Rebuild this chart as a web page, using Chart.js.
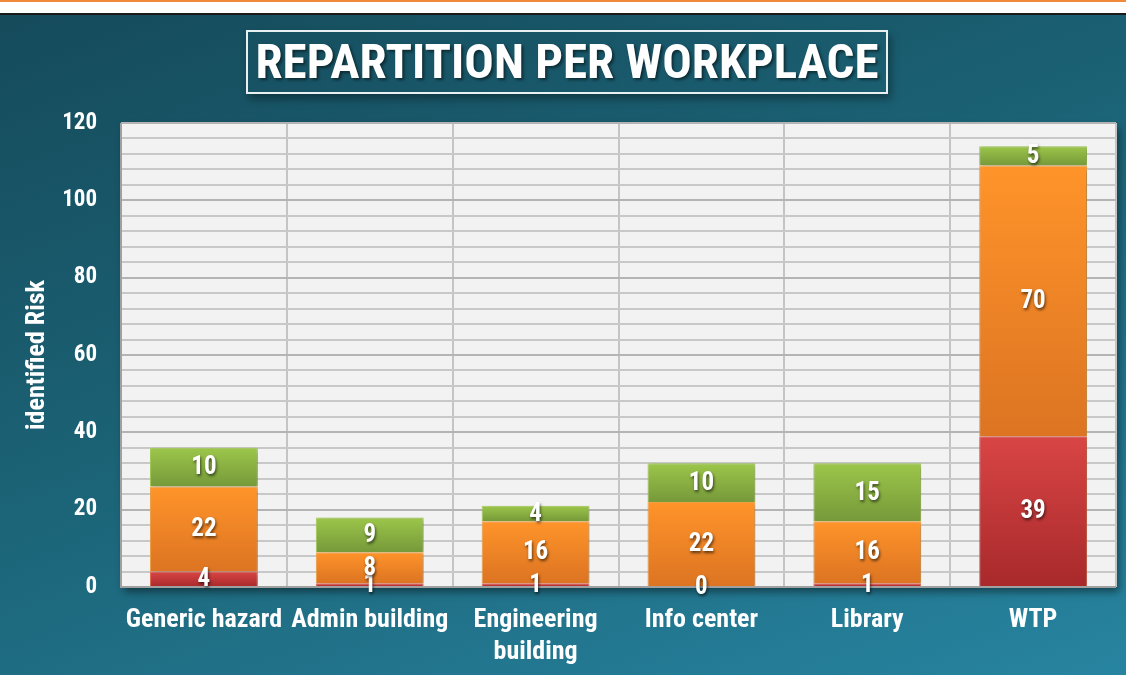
<!DOCTYPE html>
<html>
<head>
<meta charset="utf-8">
<script src="https://cdn.jsdelivr.net/npm/chart.js@4.4.1/dist/chart.umd.min.js"></script>
<style>
  html, body { margin: 0; padding: 0; }
  body {
    width: 1126px; height: 675px; overflow: hidden; position: relative;
    background: linear-gradient(160deg, #154a5a 0%, #1b6275 45%, #2784a0 100%);
    font-family: "Roboto Condensed", Roboto, sans-serif;
  }
  #topbar {
    position: absolute; left: 0; top: 0; width: 1126px; height: 15px;
    background: #fff; border-top: 2px solid #f08a3a; border-bottom: 2px solid #1a1a1a;
    box-sizing: border-box;
  }
  #title {
    position: absolute; left: 246px; top: 30px; width: 642px; height: 64px;
    box-sizing: border-box; border: 2px solid #e8f0f2;
    box-shadow: 3px 5px 8px rgba(0,0,0,0.35);
    color: #fff; font-weight: bold; font-size: 49px; line-height: 60px;
    text-align: center; white-space: nowrap; text-shadow: 2px 2px 3px rgba(0,0,0,0.5);
  }
  #chart { position: absolute; left: 0; top: 0; }
</style>
</head>
<body>
<div id="topbar"></div>
<canvas id="chart" width="1126" height="675"></canvas>
<div id="title">REPARTITION PER WORKPLACE</div>
<script>
const categories = ['Generic hazard', 'Admin building', ['Engineering', 'building'], 'Info center', 'Library', 'WTP'];
const redValues = [4, 1, 1, 0, 1, 39];
const orangeValues = [22, 8, 16, 22, 16, 70];
const greenValues = [10, 9, 4, 10, 15, 5];
const yTicks = [0, 20, 40, 60, 80, 100, 120];

const FONT = '"Roboto Condensed", Roboto, sans-serif';
const seriesList = [redValues, orangeValues, greenValues];

// vertical gradient for one stacked segment
function segGradient(top, bottom) {
  return function (c) {
    const chart = c.chart;
    const y = chart.scales.y;
    if (!chart.chartArea || !y || c.type !== 'data') return top;
    let start = 0;
    for (let i = 0; i < c.datasetIndex; i++) start += seriesList[i][c.dataIndex];
    const end = start + c.raw;
    const y0 = y.getPixelForValue(end), y1 = y.getPixelForValue(start);
    if (!isFinite(y0) || !isFinite(y1) || y0 === y1) return top;
    const g = chart.ctx.createLinearGradient(0, y0, 0, y1);
    g.addColorStop(0, top);
    g.addColorStop(1, bottom);
    return g;
  };
}

const plotBg = {
  id: 'plotBg',
  beforeDraw(chart) {
    const a = chart.chartArea, ctx = chart.ctx;
    ctx.save();
    ctx.shadowColor = 'rgba(0,0,0,0.45)';
    ctx.shadowBlur = 8; ctx.shadowOffsetX = 3; ctx.shadowOffsetY = 5;
    ctx.fillStyle = '#f2f2f2';
    ctx.fillRect(a.left, a.top, a.right - a.left, a.bottom - a.top);
    ctx.restore();
  },
  beforeDatasetsDraw(chart) {
    const ctx = chart.ctx;
    ctx.save();
    ctx.shadowColor = 'rgba(0,0,0,0.3)';
    ctx.shadowBlur = 5; ctx.shadowOffsetX = 2; ctx.shadowOffsetY = 2;
  },
  afterDatasetsDraw(chart) {
    chart.ctx.restore();
    const ctx = chart.ctx;
    const a = chart.chartArea;
    ctx.save();
    ctx.strokeStyle = '#a0a0a0';
    ctx.lineWidth = 2;
    ctx.beginPath();
    ctx.moveTo(a.left, a.top); ctx.lineTo(a.left, a.bottom); ctx.lineTo(a.right, a.bottom);
    ctx.stroke();
    ctx.restore();
  }
};

const segLabels = {
  id: 'segLabels',
  afterDraw(chart) {
    const ctx = chart.ctx;
    ctx.save();
    ctx.font = 'bold 25px ' + FONT;
    ctx.fillStyle = '#fff';
    ctx.textAlign = 'center';
    ctx.textBaseline = 'middle';
    ctx.shadowColor = 'rgba(0,0,0,0.6)';
    ctx.shadowBlur = 3; ctx.shadowOffsetX = 1; ctx.shadowOffsetY = 2;
    chart.data.datasets.forEach((ds, di) => {
      const meta = chart.getDatasetMeta(di);
      meta.data.forEach((bar, i) => {
        const yc = (bar.y + bar.base) / 2;
        ctx.fillText(String(ds.data[i]), bar.x, yc + 1);
      });
    });
    ctx.restore();
  }
};

Chart.defaults.font.family = FONT;

new Chart(document.getElementById('chart'), {
  type: 'bar',
  data: {
    labels: categories,
    datasets: [
      { label: 'Red', data: redValues, backgroundColor: segGradient('#d94545', '#a8292b'), borderColor: '#e86a50', borderWidth: 1 },
      { label: 'Orange', data: orangeValues, backgroundColor: segGradient('#ff942a', '#dc7422'), borderColor: '#f6a64a', borderWidth: 1 },
      { label: 'Green', data: greenValues, backgroundColor: segGradient('#9cc64a', '#76993a'), borderColor: '#a8cf5a', borderWidth: 1 }
    ]
  },
  options: {
    responsive: false,
    animation: false,
    devicePixelRatio: 1,
    layout: { padding: { left: 22, right: 10, top: 123, bottom: 0 } },
    datasets: { bar: { categoryPercentage: 0.65, barPercentage: 1 } },
    plugins: { legend: { display: false }, tooltip: { enabled: false } },
    scales: {
      x: {
        stacked: true,
        grid: { color: '#c4c4c4', lineWidth: 2, drawTicks: false, offset: true },
        border: { display: false },
        afterFit(axis) { axis.height = 88; axis.paddingLeft = 0; axis.paddingRight = 0; },
        ticks: { color: '#fff', font: { size: 26, weight: 'bold', lineHeight: 1.25 }, padding: 17, maxRotation: 0, autoSkip: false }
      },
      y: {
        stacked: true,
        min: 0, max: 120,
        grid: {
          color: c => (c.tick && c.tick.value % 20 === 0) ? '#b4b4b4' : '#c8c8c8',
          lineWidth: 2, drawTicks: false
        },
        border: { display: false },
        afterBuildTicks(axis) {
          const t = [];
          for (let v = 0; v <= 120; v += 4) t.push({ value: v });
          axis.ticks = t;
        },
        afterFit(axis) { axis.width = 99; },
        ticks: {
          color: '#fff', autoSkip: false, padding: 24,
          font: { size: 23, weight: 'bold' },
          callback: v => yTicks.includes(v) ? String(v) : ''
        },
        title: { display: true, text: 'identified Risk', color: '#fff', font: { size: 26, weight: 'bold' }, padding: { top: 0, bottom: 8 } }
      }
    }
  },
  plugins: [plotBg, segLabels]
});
</script>
</body>
</html>
